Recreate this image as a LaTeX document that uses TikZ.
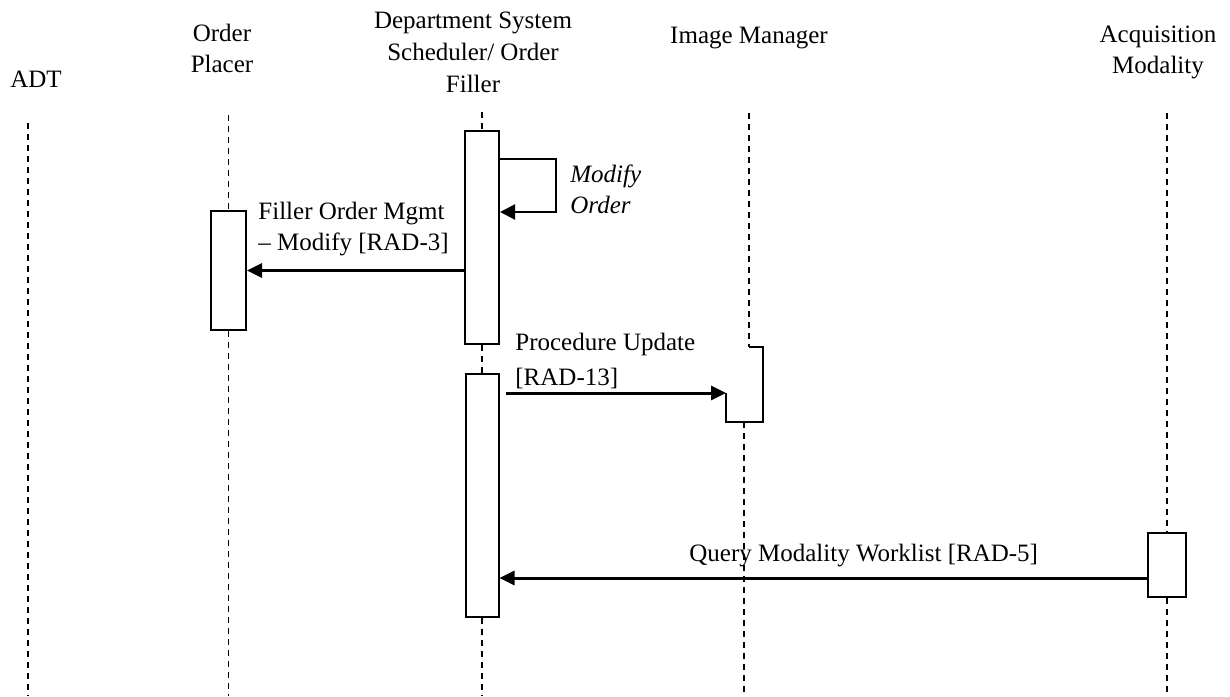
\documentclass[tikz,border=0pt]{standalone}
\usepackage{fontspec}
\setmainfont{Liberation Serif}
\usetikzlibrary{arrows.meta}

\begin{document}
\begin{tikzpicture}[x=0.5pt,y=-0.5pt,
    actor/.style={anchor=base,align=center,inner sep=0pt,font=\fontsize{12.5}{15.5}\selectfont},
    msglabel/.style={anchor=base west,align=left,inner sep=0pt,font=\fontsize{12.5}{15.5}\selectfont},
    lifeline/.style={line width=0.7pt,dash pattern=on 3pt off 2.5pt},
    activation/.style={draw,fill=white,line width=1pt,inner sep=0pt},
    msg/.style={line width=1.5pt,-{Triangle[length=7.5pt,width=7pt]}},
    selfmsg/.style={line width=1pt,-{Triangle[length=7.5pt,width=7.5pt]}}]

    \useasboundingbox (0,0) rectangle (1230,696);

    % actors (anchored on the baseline of their last line)
    \node[actor] (adt) at (36,87) {ADT};
    \node[actor] (placer) at (222,72) {Order\\Placer};
    \node[actor] (dss) at (473,92) {Department System\\[0.5pt]Scheduler/ Order\\[0.5pt]Filler};
    \node[actor] (imgmgr) at (749,43) {Image Manager};
    \node[actor] (acqmod) at (1158,73) {Acquisition\\Modality};

    % top and bottom of the lifelines
    \coordinate (adt top) at (28,123);
    \coordinate (adt end) at (28,696);
    \coordinate (placer top) at (228.5,115);
    \coordinate (placer end) at (228.5,696);
    \coordinate (dss top) at (482,112);
    \coordinate (dss end) at (482,696);
    \coordinate (img top) at (749,113);
    \coordinate (img end) at (744,696);
    \coordinate (acq top) at (1167,113);
    \coordinate (acq end) at (1167,696);

    % activations
    \node[activation,minimum width=17.5pt,minimum height=59.5pt] (placer act) at (228.5,270.5) {};
    \node[activation,minimum width=17pt,minimum height=106.5pt] (dss act1) at (482,237.5) {};
    \node[activation,minimum width=16.5pt,minimum height=121.5pt] (dss act2) at (482,495.5) {};
    \node[activation,minimum width=19pt,minimum height=32pt] (acq act) at (1167,565) {};

    \draw[lifeline] (adt top) -- (adt end);
    \draw[lifeline] (placer top) -- (placer act.north);
    \draw[lifeline] (placer act.south) -- (placer end);
    \draw[lifeline] (dss top) -- (dss act1.north);
    \draw[lifeline] (dss act1.south) -- (dss act2.north);
    \draw[lifeline] (dss act2.south) -- (dss end);
    \draw[lifeline] (acq top) -- (acq act.north);
    \draw[lifeline] (acq act.south) -- (acq end);

    % image manager step
    \coordinate (img corner) at (749,347);
    \coordinate (img in) at (726,393);
    \draw[lifeline] (img top) -- (img corner);
    \draw[line width=1pt] (img corner) -- (763,347) -- (763,422) -- (726,422) -- (img in);
    \draw[lifeline] (img end |- 0,422) -- (img end);

    % messages
    \draw[selfmsg] ([yshift=-14.5pt]dss act1.north east) -- ++(56,0)
        |- ([yshift=-41pt]dss act1.north east);
    \node[msglabel,font=\fontsize{12.5}{15.5}\selectfont\itshape] (modify) at (570,213) {Modify\\Order};

    \draw[msg] (dss act1.west |- placer act.east) -- (placer act.east);
    \node[msglabel] (rad3) at (258,250) {Filler Order Mgmt\\– Modify [RAD-3]};

    \draw[msg] ([xshift=3pt]dss act2.east |- img in) -- (img in);
    \node[msglabel] (rad13) at (515,385) {Procedure Update\\[2pt][RAD-13]};

    \coordinate (query) at (acq act.west |- 0,578);
    \draw[msg] (query) -- (dss act2.east |- query);
    \node[msglabel] (rad5) at (689,561) {Query Modality Worklist [RAD-5]};

\end{tikzpicture}
\end{document}
